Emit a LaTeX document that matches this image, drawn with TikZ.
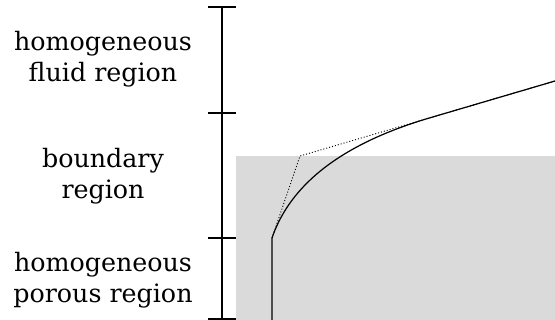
\documentclass[tikz,border=0pt]{standalone}
\usepackage{fontspec}
\setmainfont{DejaVu Serif}
\usetikzlibrary{calc}
\definecolor{porousgray}{HTML}{DADADA}
\tikzset{
 region/.style={align=center,inner sep=0pt,font=\fontsize{19}{23.25}\selectfont},
 scaleline/.style={line width=0.9pt},
 profile/.style={line width=0.9pt,line join=round},
 guide/.style={line width=0.7pt,dash pattern=on 0.75pt off 1.5pt}
}
\begin{document}
\begin{tikzpicture}[x=0.75pt,y=-0.75pt]
 \useasboundingbox (0,0) rectangle (555,320);
 % porous layer
 \fill[porousgray] (236,156) rectangle (555,320);
 % region scale
 \coordinate (s0) at (222,7);
 \coordinate (s3) at (222,319);
 \draw[scaleline] (s0) -- (s3);
 \foreach \yy in {7,113,238,319}
  \draw[scaleline] (208,\yy) -- (236,\yy);
 \node[region] (fluid) at (103,59) {homogeneous\\fluid region};
 \node[region] (boundary) at (103,176) {boundary\\region};
 \node[region] (porous) at (103,280) {homogeneous\\porous region};
 % velocity profile
 \coordinate (wall) at (272,320);
 \coordinate (knee) at (272,238);
 \coordinate (kink) at (300,156);
 \coordinate (join) at (430,117.8);
 \coordinate (top) at (555,81);
 \draw[guide] (knee) -- (kink) -- (top);
 \draw[profile] (wall) -- (knee)
  .. controls ($(knee)!2/3!(kink)$) and ($(join)!2/3!(kink)$) .. (join) -- (top);
\end{tikzpicture}
\end{document}
